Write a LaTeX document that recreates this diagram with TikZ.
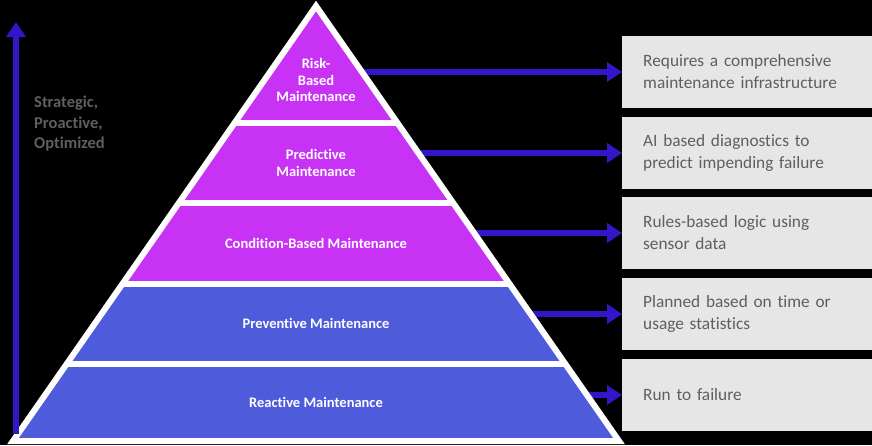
\documentclass[tikz,border=0pt]{standalone}
\usepackage{fontspec}
\setmainfont{Carlito}[Ligatures=NoCommon]
\usetikzlibrary{arrows.meta,calc}
\definecolor{lvlP}{RGB}{200,50,245}
\definecolor{lvlB}{RGB}{78,92,220}
\definecolor{arrB}{RGB}{50,22,200}
\definecolor{noteG}{RGB}{230,230,230}
\definecolor{txtG}{RGB}{95,95,95}

\begin{document}
\begin{tikzpicture}[x=1pt,y=-1pt,
  lvl/.style={font=\fontsize{14.5}{16.5}\selectfont\bfseries,text=white,align=center},
  note/.style={fill=noteG,anchor=west,minimum height=72pt,text width=208pt,inner xsep=21pt,align=left,text=txtG,font=\fontsize{17.3}{22}\selectfont},
  link/.style={arrB,line width=6.5pt,-{Triangle[length=15pt,width=19pt]}}]
\fill[black] (0,0) rectangle (872,445);
\useasboundingbox (0,0) rectangle (872,445);
% pyramid corners
\coordinate (apex) at (316,6);
\coordinate (bl) at (13,441);
\coordinate (br) at (619,441);
\begin{scope}
\clip (apex) -- (bl) -- (br) -- cycle;
\fill[lvlP] (0,0) rectangle (872,284);
\fill[lvlB] (0,284) rectangle (872,445);
\foreach \yy in {123,203,284,364} \draw[white,line width=6pt] (0,\yy) -- (872,\yy);
\end{scope}
% notes on the right
\node[note] (n1) at (622,72) {Requires a comprehensive\\maintenance infrastructure};
\node[note] (n2) at (622,153) {AI based diagnostics to\\predict impending failure};
\node[note] (n3) at (622,233) {Rules-based logic using\\sensor data};
\node[note] (n4) at (622,314) {Planned based on time or\\usage statistics};
\node[note] (n5) at (622,395) {Run to failure};
\foreach \yy/\k in {72/1,153/2,233/3,314/4,395/5}{
  \coordinate (e\k) at ($(apex)!{(\yy-6)/435}!(br)$);
  \draw[link] (e\k) -- (e\k -| n\k.west);
}
\draw[white,line width=6pt,line join=miter] (apex) -- (bl) -- (br) -- cycle;
\node[lvl] (risk) at (316,80) {Risk-\\Based\\Maintenance};
\node[lvl] (pred) at (316,163) {Predictive\\Maintenance};
\node[lvl] (cond) at (316,243) {Condition-Based Maintenance};
\node[lvl] (prev) at (316,323) {Preventive Maintenance};
\node[lvl] (reac) at (316,402) {Reactive Maintenance};
% left axis
\coordinate (lo) at (16,434);
\coordinate (hi) at (16,22);
\draw[link] (lo) -- (hi);
\node[anchor=west,inner sep=3pt,align=left,text=txtG,font=\fontsize{16.5}{20.5}\selectfont\bfseries] (axis) at (31,124) {Strategic,\\Proactive,\\Optimized};
\end{tikzpicture}
\end{document}
